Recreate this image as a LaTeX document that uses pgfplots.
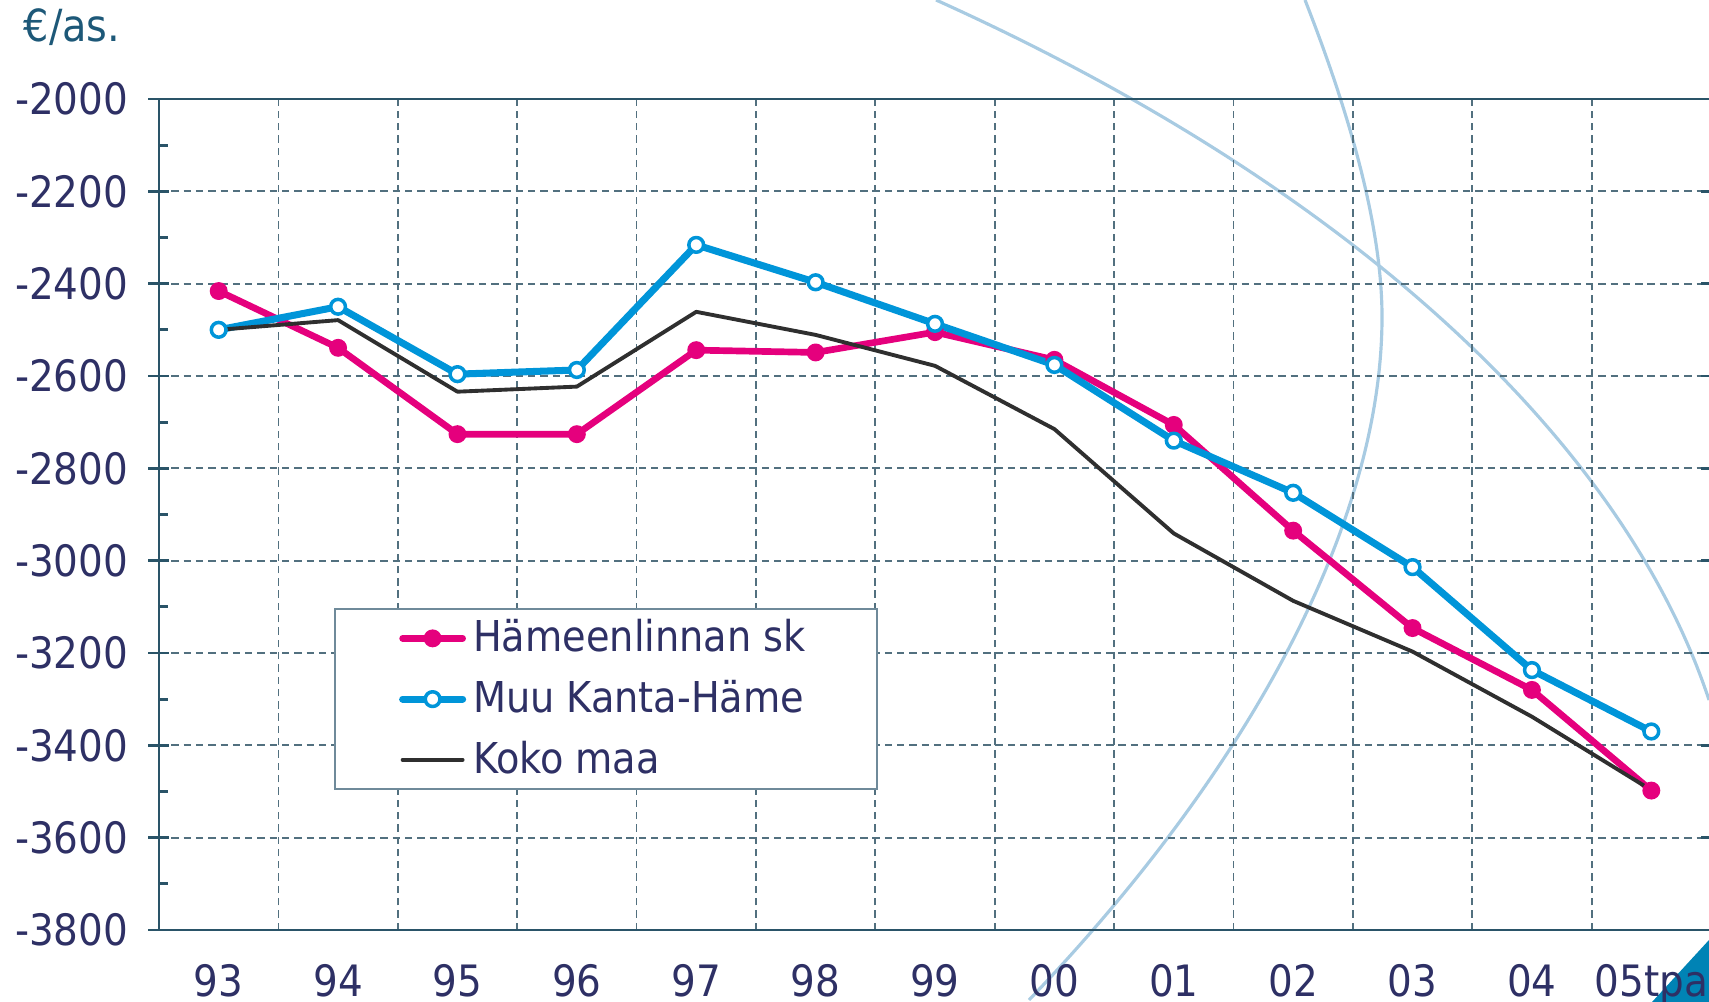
\documentclass[border=0pt]{standalone}
\usepackage{pgfplots}
\pgfplotsset{compat=1.18}
\usepackage{fontspec}
\setmainfont{DejaVu Sans Condensed}
\definecolor{pinkc}{HTML}{E5007D}
\definecolor{bluec}{HTML}{0095D9}
\definecolor{blackc}{HTML}{2F2F2F}
\definecolor{textc}{HTML}{2E3065}
\definecolor{axisc}{HTML}{2A5468}
\definecolor{gridc}{HTML}{52707F}
\definecolor{arcc}{HTML}{A8CBE2}
\definecolor{tric}{HTML}{0083B5}
\definecolor{titlec}{HTML}{1D5878}
\definecolor{legc}{HTML}{6F8A9A}
\begin{document}
\begin{tikzpicture}
\begin{scope}
\clip (0,0) rectangle (17.09,10.02);
\draw[arcc, line width=0.9pt] (9.36,10.02) .. controls (13.42,8.19) and (16.21,5.67) .. (17.09,3.02);
\draw[arcc, line width=0.9pt] (13.05,10.02) .. controls (13.56,8.72) and (13.82,7.66) .. (13.82,6.85)
   .. controls (13.82,4.84) and (12.55,2.38) .. (10.29,0.02);
\fill[tric] (16.52,0) -- (17.09,0) -- (17.09,0.62) -- cycle;
\end{scope}
\begin{axis}[
  at={(1.59cm,0.72cm)}, anchor=south west,
  scale only axis, width=15.52cm, height=8.31cm,
  xmin=-0.5, xmax=12.5, ymin=-3800, ymax=-2000,
  axis line style={axisc, line width=0.8pt},
  xtick={0,...,12},
  xticklabels={93,94,95,96,97,98,99,00,01,02,03,04,05tpa},
  major x tick style={draw=none},
  minor xtick={0.5,1.5,...,11.5},
  minor x tick style={draw=none},
  xminorgrids=true,
  ytick={-3800,-3600,...,-2000},
  yticklabels={-3800,-3600,-3400,-3200,-3000,-2800,-2600,-2400,-2200,-2000},
  minor ytick={-3700,-3500,...,-2100},
  ymajorgrids=true,
  grid style={gridc, line width=0.5pt, dash pattern=on 2.1pt off 1.4pt},
  minor grid style={gridc, line width=0.5pt, dash pattern=on 2.1pt off 1.4pt},
  tick align=center,
  major tick length=0.21cm,
  minor tick length=0.09cm,
  major y tick style={axisc, line width=0.8pt},
  minor y tick style={axisc, line width=0.8pt, xshift=0.045cm},
  tick label style={font=\fontsize{12.3}{14}\selectfont, text=textc},
  xticklabel style={yshift=-0.11cm},
  yticklabel style={xshift=-0.08cm},
  every axis plot/.append style={line join=round, line cap=round},
  legend cell align=left,
  legend style={at={(0.1128,0.3875)}, anchor=north west, draw=legc, line width=0.6pt, fill=white,
    font=\fontsize{12.1}{14}\selectfont, text=textc, inner xsep=0.64cm, inner ysep=1pt, row sep=2.6pt,
    nodes={text=textc}},
]
\addplot[pinkc, line width=1.9pt, mark=*, mark size=2.3pt, mark options={solid, fill=pinkc, draw=pinkc, line width=0.5pt}]
coordinates {(0,-2416) (1,-2539) (2,-2726) (3,-2726) (4,-2544) (5,-2549) (6,-2505) (7,-2565) (8,-2706) (9,-2935) (10,-3146) (11,-3280) (12,-3498)};
\addlegendentry{Hämeenlinnan sk}
\addplot[bluec, line width=2pt, mark=*, mark size=2.1pt, mark options={solid, fill=white, draw=bluec, line width=1pt}]
coordinates {(0,-2500) (1,-2450) (2,-2596) (3,-2587) (4,-2316) (5,-2397) (6,-2487) (7,-2576) (8,-2740) (9,-2853) (10,-3014) (11,-3237) (12,-3370)};
\addlegendentry{Muu Kanta-Häme}
\addplot[blackc, line width=1.1pt]
coordinates {(0,-2500) (1,-2479) (2,-2634) (3,-2623) (4,-2461) (5,-2511) (6,-2578) (7,-2715) (8,-2941) (9,-3087) (10,-3197) (11,-3338) (12,-3497)};
\addlegendentry{Koko maa}
\end{axis}
\node[anchor=base west, inner sep=0pt, text=titlec, font=\fontsize{12.6}{14}\selectfont] at (0.23,9.60) {€/as.};
\pgfresetboundingbox
\useasboundingbox (0,0) rectangle (17.09,10.02);
\end{tikzpicture}
\end{document}
